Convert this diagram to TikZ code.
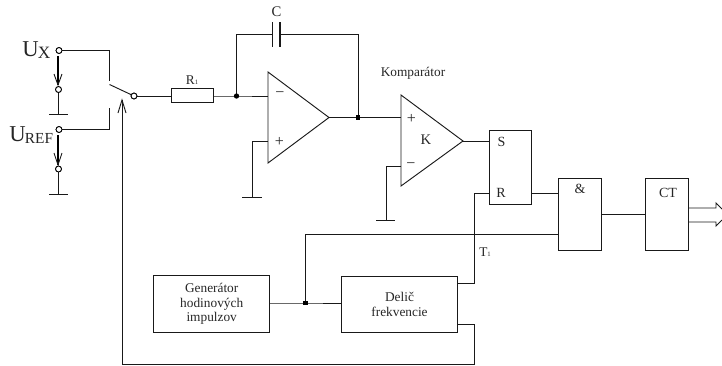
\documentclass[tikz,border=0pt]{standalone}
\usepackage{fontspec}
\setmainfont{Liberation Serif}
\tikzset{
  x=0.75pt,y=-0.75pt,
  wire/.style={line width=0.7pt,black!90},
  box/.style={draw,line width=0.75pt,black!90,inner sep=0pt,align=center,font=\fontsize{10pt}{11pt}\selectfont,text=black!85},
  term/.style={circle,draw,fill=white,line width=0.65pt,minimum size=4.4pt,inner sep=0pt},
  dot/.style={circle,fill=black,minimum size=4pt,inner sep=0pt},
  sdot/.style={rectangle,fill=black,minimum size=3.6pt,inner sep=0pt},
  lab/.style={font=\fontsize{10pt}{11pt}\selectfont,inner sep=0pt,align=center,text=black!85},
  bigl/.style={inner sep=0pt,text=black!85,anchor=base west},
  volt/.style={line width=1.1pt,black},
}
\newcommand{\tinysub}[1]{{\fontsize{5pt}{5pt}\selectfont #1}}
\begin{document}
\begin{tikzpicture}
\useasboundingbox (0,0) rectangle (722,365);
% terminals
\node[term] (ux) at (59,50.5) {};
\node[term] (uxb) at (58.5,89.5) {};
\node[term] (ur) at (59,129.5) {};
\node[term] (urb) at (58.5,169) {};
\node[term] (sw) at (134,96) {};
% boxes
\node[box,minimum width=31.2pt,minimum height=10.6pt] (rone) at (192.3,95.5) {};
\node[box,minimum width=32.2pt,minimum height=55.5pt] (sr) at (510.5,167) {};
\node[box,minimum width=32.2pt,minimum height=54.4pt] (and) at (580,214.3) {};
\node[box,minimum width=32.2pt,minimum height=54.7pt] (ct) at (667,214.5) {};
\node[box,minimum width=87.3pt,minimum height=42.2pt] (gen) at (211.7,304) {Generátor\\hodinových\\impulzov};
\node[box,minimum width=87.3pt,minimum height=41.5pt] (del) at (399.5,304.5) {Delič\\frekvencie};
% junctions and corners
\coordinate (swa) at (109.5,84.5);
\coordinate (swb) at (109.5,107.5);
\coordinate (j1) at (236.5,96);
\coordinate (j2) at (358,117.5);
\coordinate (j3) at (305.5,303);
\coordinate (capl) at (272.5,34);
\coordinate (capr) at (279.5,34);
% op-amps
\coordinate (oa) at (268,72); \coordinate (ob) at (268,163); \coordinate (oc) at (329,117.5);
\coordinate (ka) at (401,95); \coordinate (kb) at (401,186); \coordinate (kc) at (463,141);
\draw[wire] (oa) -- (ob) -- (oc) -- cycle;
\draw[wire] (ka) -- (kb) -- (kc) -- cycle;
% input wiring
\draw[wire] (ux) -- (109.5,50.5) -- (109.5,81);
\draw[wire] (swa) -- (sw);
\draw[wire] (ur) -- (109.5,129.5) -- (swb);
\draw[wire] (sw) -- (rone.west |- sw);
\draw[wire] (rone.east |- j1) -- (j1) -- (268,96);
\draw[wire] (j1) -- (236.5,34) -- (capl);
\draw[line width=0.8pt,black!90] (272.5,22) -- (272.5,47) (280,22) -- (280,47);
\draw[wire] (capr) -- (358,34) -- (j2);
\draw[wire] (oc) -- (j2) -- (401,117.5);
% voltage arrows
\draw[volt] (58,56) -- (58,85);
\draw[wire] (54,74) -- (58,85) -- (62,74);
\draw[volt] (58,135) -- (58,165);
\draw[wire] (54,153) -- (58,165) -- (62,153);
% grounds
\draw[wire] (uxb) -- (58.5,114);
\draw[wire] (49,114) -- (68,114);
\draw[wire] (urb) -- (58.5,194);
\draw[wire] (49,194) -- (68,194);
\draw[wire] (268,141.5) -- (252,141.5) -- (252,197);
\draw[wire] (242,197) -- (262,197);
\draw[wire] (401,166) -- (386,166) -- (386,220);
\draw[wire] (376,220) -- (395,220);
% logic wiring
\draw[wire] (kc) -- (sr.west |- kc);
\draw[wire] (sr.west |- 0,193) -- (474,193) -- (474,283) -- (del.east |- 0,283);
\draw[wire] (sr.east |- 0,193) -- (and.west |- 0,193);
\draw[wire] (j3) -- (305.5,234.5) -- (and.west |- 0,234.5);
\draw[wire] (gen.east |- j3) -- (j3) -- (del.west |- j3);
\draw[wire] (and.east |- 0,214) -- (ct.west |- 0,214);
\draw[wire] (ct.east |- 0,208) -- (716,208) -- (716,203) -- (722,209);
\draw[wire] (ct.east |- 0,222) -- (716,222) -- (716,226) -- (722,220);
% feedback
\draw[wire] (del.east |- 0,324) -- (474,324) -- (474,364) -- (122,364) -- (122,100);
\draw[wire] (118,113) -- (122,100) -- (126,113);
% dots (drawn above wires)
\node[dot] (d1) at (j1) {};
\node[sdot] (d2) at (j2) {};
\node[sdot] (d3) at (j3) {};
\node[term] at (ux) {}; \node[term] at (uxb) {};
\node[term] at (ur) {}; \node[term] at (urb) {}; \node[term] at (sw) {};
% labels
\node[bigl,font=\fontsize{17pt}{17pt}\selectfont] (lu) at (22,56) {U\kern-0.5pt\raisebox{-2.2pt}{\fontsize{13pt}{13pt}\selectfont X}};
\node[bigl,font=\fontsize{17pt}{17pt}\selectfont] (lr) at (9,141) {U\kern-0.5pt\raisebox{-1.8pt}{\fontsize{11.5pt}{11.5pt}\selectfont REF}};
\node[lab,anchor=base] (lr1) at (192,84) {R\tinysub{1}};
\node[lab,anchor=base,font=\fontsize{11pt}{11pt}\selectfont] (lc) at (276.5,16) {C};
\node[lab,anchor=base] (lk) at (413,76) {Komparátor};
\node[lab,anchor=base,font=\fontsize{11pt}{11pt}\selectfont] (lkk) at (426,144) {K};
\node[lab,font=\fontsize{12pt}{12pt}\selectfont] (m1) at (280,95) {−};
\node[lab,font=\fontsize{12pt}{12pt}\selectfont] (p1) at (279.5,141.5) {+};
\node[lab,font=\fontsize{12pt}{12pt}\selectfont] (p2) at (411.5,118.5) {+};
\node[lab,font=\fontsize{12pt}{12pt}\selectfont] (m2) at (411,165.5) {−};
\node[lab,anchor=base,font=\fontsize{10.5pt}{10.5pt}\selectfont] (ls) at (501.5,146) {S};
\node[lab,anchor=base,font=\fontsize{10.5pt}{10.5pt}\selectfont] (lrr) at (501,197) {R};
\node[lab,anchor=base,font=\fontsize{10.5pt}{10.5pt}\selectfont] (la) at (580,193) {\&};
\node[lab,anchor=base,font=\fontsize{10.5pt}{10.5pt}\selectfont] (lct) at (668,197) {CT};
\node[lab,anchor=base] (lt) at (485,256) {T\tinysub{1}};
\end{tikzpicture}
\end{document}
